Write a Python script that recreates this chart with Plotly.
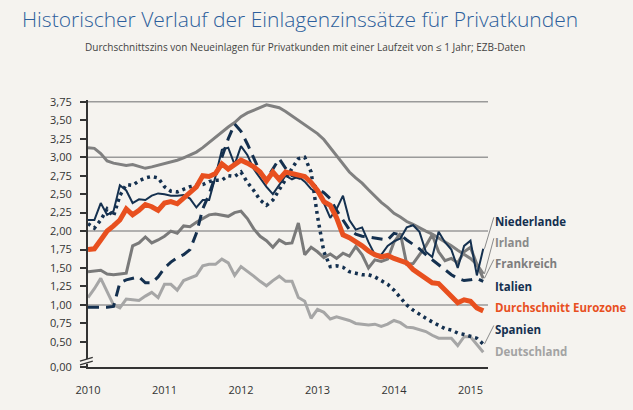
import plotly.graph_objects as go

# Monthly data, Jan 2010 .. Mar 2015
n = 63
months = [2010 + i / 12 for i in range(n)]

eurozone = [1.75, 1.76, 1.88, 2.00, 2.07, 2.15, 2.30, 2.22, 2.28, 2.36, 2.33, 2.28,
            2.38, 2.40, 2.37, 2.45, 2.53, 2.60, 2.75, 2.74, 2.78, 2.91, 2.84, 2.90,
            2.96, 2.92, 2.87, 2.80, 2.68, 2.80, 2.70, 2.80, 2.78, 2.76, 2.74, 2.66,
            2.55, 2.40, 2.35, 2.18, 1.95, 1.91, 1.86, 1.80, 1.73, 1.68, 1.65, 1.67,
            1.63, 1.60, 1.57, 1.48, 1.42, 1.36, 1.30, 1.29, 1.20, 1.10, 1.03, 1.07,
            1.05, 0.96, 0.92]

irland = [3.13, 3.12, 3.05, 2.95, 2.92, 2.90, 2.89, 2.90, 2.88, 2.85, 2.87, 2.89,
          2.91, 2.93, 2.96, 2.99, 3.03, 3.07, 3.13, 3.20, 3.28, 3.35, 3.41, 3.47,
          3.55, 3.60, 3.64, 3.67, 3.71, 3.69, 3.67, 3.62, 3.56, 3.49, 3.44, 3.38,
          3.32, 3.24, 3.13, 3.03, 2.91, 2.80, 2.72, 2.65, 2.56, 2.47, 2.39, 2.32,
          2.24, 2.19, 2.13, 2.09, 2.04, 2.00, 1.96, 1.91, 1.86, 1.80, 1.74, 1.68,
          1.63, 1.55, 1.42]

frankreich = [1.45, 1.46, 1.47, 1.42, 1.41, 1.42, 1.43, 1.80, 1.84, 1.92, 1.84, 1.88,
              1.93, 2.00, 1.97, 2.07, 2.06, 2.12, 2.17, 2.22, 2.23, 2.22, 2.20, 2.25,
              2.27, 2.17, 2.03, 1.93, 1.87, 1.78, 1.88, 1.83, 1.84, 2.11, 1.68, 1.78,
              1.72, 1.64, 1.69, 1.63, 1.70, 1.66, 1.79, 1.68, 1.50, 1.61, 1.59, 1.62,
              1.85, 1.97, 1.55, 1.56, 1.68, 1.80, 1.95, 1.72, 1.60, 1.63, 1.57, 1.72,
              1.78, 1.55, 1.36]

deutschland = [1.10, 1.22, 1.36, 1.18, 1.00, 0.96, 1.08, 1.07, 1.06, 1.12, 1.17, 1.10,
               1.28, 1.28, 1.20, 1.33, 1.37, 1.40, 1.53, 1.55, 1.55, 1.62, 1.57, 1.40,
               1.52, 1.46, 1.39, 1.32, 1.26, 1.33, 1.39, 1.32, 1.32, 1.10, 1.05, 0.82,
               0.94, 0.90, 0.81, 0.84, 0.82, 0.79, 0.75, 0.74, 0.73, 0.74, 0.71, 0.74,
               0.79, 0.76, 0.70, 0.69, 0.67, 0.64, 0.59, 0.55, 0.55, 0.55, 0.45, 0.57,
               0.57, 0.46, 0.36]

niederlande = [2.15, 2.15, 2.38, 2.22, 2.27, 2.62, 2.55, 2.38, 2.43, 2.42, 2.48, 2.51,
               2.50, 2.48, 2.48, 2.49, 2.44, 2.32, 2.42, 2.42, 2.74, 3.10, 3.13, 2.90,
               3.15, 3.03, 2.84, 2.72, 2.60, 2.50, 2.62, 2.75, 2.70, 2.74, 2.67, 2.57,
               2.52, 2.38, 2.18, 2.30, 2.48, 2.15, 2.02, 2.05, 1.85, 1.68, 1.68, 1.80,
               1.86, 1.90, 2.05, 2.08, 1.99, 1.72, 1.65, 1.99, 1.85, 1.75, 1.50, 1.80,
               1.87, 1.40, 1.76]

italien = [0.97, 0.97, 0.96, 0.97, 0.98, 1.30, 1.34, 1.36, 1.38, 1.30, 1.30, 1.38,
           1.50, 1.58, 1.64, 1.68, 1.75, 1.97, 2.30, 2.50, 2.75, 3.00, 3.25, 3.45,
           3.35, 3.18, 3.00, 2.80, 2.70, 2.85, 2.98, 2.85, 2.75, 2.72, 2.70, 2.66,
           2.58, 2.52, 2.44, 2.28, 2.15, 2.02, 1.96, 1.93, 1.92, 1.91, 1.90, 1.88,
           1.97, 1.95, 1.88, 1.82, 1.76, 1.68, 1.61, 1.54, 1.48, 1.41, 1.36, 1.33,
           1.34, 1.36, 1.32]

spanien = [2.10, 2.04, 2.15, 2.30, 2.20, 2.48, 2.63, 2.62, 2.68, 2.72, 2.74, 2.72,
           2.60, 2.54, 2.53, 2.57, 2.60, 2.62, 2.63, 2.67, 2.69, 2.69, 2.75, 2.74,
           2.80, 2.66, 2.55, 2.42, 2.35, 2.42, 2.55, 2.70, 2.85, 2.98, 3.00, 2.80,
           2.20, 1.72, 1.52, 1.53, 1.51, 1.45, 1.43, 1.41, 1.41, 1.38, 1.33, 1.28,
           1.20, 1.10, 1.00, 0.93, 0.87, 0.82, 0.77, 0.72, 0.68, 0.66, 0.62, 0.60,
           0.58, 0.55, 0.47]

y_tickvals = [0.162, 0.5, 0.75, 1.0, 1.25, 1.5, 1.75, 2.0, 2.25, 2.5, 2.75, 3.0, 3.25, 3.5, 3.75]
y_ticktext = ["0,00", "0,50", "0,75", "1,00", "1,25", "1,50", "1,75", "2,00", "2,25",
              "2,50", "2,75", "3,00", "3,25", "3,50", "3,75"]
grid_vals = [1.0, 2.0, 3.0, 3.75]
x_years = [2010, 2011, 2012, 2013, 2014, 2015]

XR = [2010, 2015.229]
YR = [0.16, 3.775]


def px_x(v):
    return (v - XR[0]) / (XR[1] - XR[0])


def px_y(v):
    return (v - YR[0]) / (YR[1] - YR[0])


NAVY = "#14304f"
ORANGE = "#e8501f"
GRAY_IR = "#808080"
GRAY_FR = "#7a7a7a"
GRAY_DE = "#a6a6a6"
BG = "#f5f3ef"

series = [
    ("Deutschland", deutschland, GRAY_DE, 3, "solid"),
    ("Frankreich", frankreich, GRAY_FR, 3, "solid"),
    ("Irland", irland, GRAY_IR, 3, "solid"),
    ("Italien", italien, NAVY, 3, "11px,7px"),
    ("Spanien", spanien, NAVY, 3.5, "3px,4px"),
    ("Niederlande", niederlande, NAVY, 2, "solid"),
    ("Durchschnitt Eurozone", eurozone, ORANGE, 5, "solid"),
]

fig = go.Figure()
for name, vals, col, w, dash in series:
    fig.add_trace(go.Scatter(x=months, y=vals, mode="lines", name=name,
                             line=dict(color=col, width=w, dash=dash),
                             showlegend=False, hoverinfo="skip"))

# gridlines
for g in grid_vals:
    fig.add_shape(type="line", xref="paper", yref="y", x0=0, x1=1, y0=g, y1=g,
                  line=dict(color="#9a9a9a", width=1.5), layer="below")

# labels at series ends
label_xp = (493 - 88) / 400
labels = [
    ("Niederlande", 2.127, NAVY, niederlande),
    ("Irland", 1.843, "#8a8a8a", irland),
    ("Frankreich", 1.555, "#7d7d7d", frankreich),
    ("Italien", 1.248, NAVY, None),
    ("Durchschnitt Eurozone", 0.96, ORANGE, None),
    ("Spanien", 0.662, NAVY, spanien),
    ("Deutschland", 0.369, "#a3a3a3", None),
]
for text, ly, col, vals in labels:
    fig.add_annotation(x=label_xp, y=px_y(ly), xref="paper", yref="paper",
                       text="<b>%s</b>" % text,
                       showarrow=False, xanchor="left", yanchor="middle",
                       font=dict(family="Open Sans", size=11.5, color=col))
    if vals is not None:
        fig.add_shape(type="line", xref="paper", yref="paper",
                      x0=px_x(months[-1]) + 0.003, y0=px_y(vals[-1]),
                      x1=label_xp + 0.002, y1=px_y(ly + 0.06),
                      line=dict(color="#8a8a8a", width=1))

# axis break marks
fig.add_shape(type="rect", xref="paper", yref="paper", x0=-0.01, x1=0.01, y0=0.012, y1=0.03,
              fillcolor=BG, line=dict(width=0))
fig.add_shape(type="line", xref="paper", yref="paper", x0=-0.02, y0=0.008, x1=0.012, y1=0.022,
              line=dict(color="#333333", width=1.2))
fig.add_shape(type="line", xref="paper", yref="paper", x0=-0.02, y0=0.022, x1=0.012, y1=0.036,
              line=dict(color="#333333", width=1.2))

fig.update_layout(
    width=633, height=410,
    margin=dict(l=88, r=145, t=100, b=43),
    paper_bgcolor=BG, plot_bgcolor=BG,
    font=dict(family="Open Sans", color="#333333"),
    title=dict(text="Historischer Verlauf der Einlagenzinssätze für Privatkunden",
               x=22 / 633, xanchor="left", y=1 - 20 / 410, yanchor="middle",
               font=dict(family="Open Sans", size=21, color="#2d5f9c", weight=300)),
)
fig.add_annotation(text="Durchschnittszins von Neueinlagen für Privatkunden mit einer Laufzeit von ≤ 1 Jahr; EZB-Daten",
                   xref="paper", yref="paper", x=(305 - 88) / 400, y=1 + (100 - 47) / 267,
                   xanchor="center", yanchor="middle", showarrow=False,
                   font=dict(family="Open Sans", size=10, color="#444444"))

fig.update_xaxes(range=XR, tickvals=x_years, ticktext=[str(v) for v in x_years],
                 showgrid=False, zeroline=False, showline=True, linecolor="#333333", linewidth=2,
                 ticks="", ticklabelstandoff=12,
                 tickfont=dict(family="Open Sans", size=11, color="#333333"))
fig.update_yaxes(range=YR, tickvals=y_tickvals, ticktext=y_ticktext,
                 showgrid=False, zeroline=False, showline=True, linecolor="#333333", linewidth=2,
                 ticks="outside", ticklen=6, tickcolor="#333333", tickwidth=1.5,
                 ticklabelstandoff=6,
                 tickfont=dict(family="Open Sans", size=11, color="#333333"))

fig.write_html("out.html")
